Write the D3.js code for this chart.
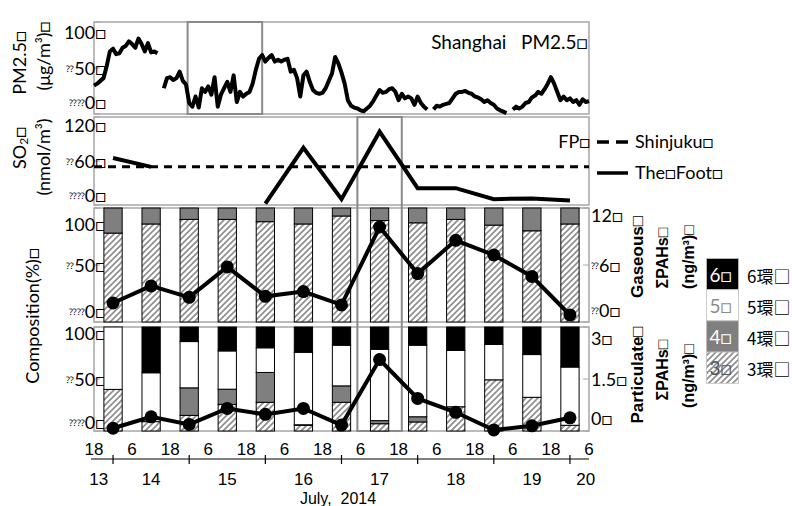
<!DOCTYPE html>
<html><head><meta charset="utf-8">
<script src="https://cdn.jsdelivr.net/npm/d3@7"></script>
<style>body{margin:0;background:#fff}svg{display:block}text{white-space:pre}</style>
</head><body><svg id="c" width="792" height="506"></svg>
<script>
// ---------------- DATA ----------------
const startTime = "2014-07-13T18:00";
const endTime = "2014-07-20T06:00";
// hourly Shanghai PM2.5 (ug/m3) from 13 Jul 18:00; null = missing
const pmValues = [
 31,33,36,39,52,68,71,65,66,72,74,79,76,72,82,76,68,77,67,68,66,
 null,
 28,39,40,37,39,46,36,32,12,8,19,7,28,24,30,21,40,8,21,28,35,24,42,13,24,19,22,24,33,48,60,64,
 57,61,64,57,59,57,59,60,46,48,39,19,42,46,35,26,23,22,23,28,36,44,62,55,45,33,15,9,7,6,4,3,
 6,9,14,20,26,23,24,27,28,24,15,22,17,19,17,10,19,12,8,5,
 null,
 5,9,8,10,11,12,17,22,24,24,25,23,22,19,18,16,13,15,12,10,6,4,2.5,1,
 null,
 5,8,6,8,12,13,18,20,24,22,27,33,40,33,24,15,19,15,17,13,15,10,16,13,14
];
// 12-hour sampling periods (centre times)
const sampleTimes = ["2014-07-14T00:00","2014-07-14T12:00","2014-07-15T00:00","2014-07-15T12:00",
 "2014-07-16T00:00","2014-07-16T12:00","2014-07-17T00:00","2014-07-17T12:00","2014-07-18T00:00",
 "2014-07-18T12:00","2014-07-19T00:00","2014-07-19T12:00","2014-07-20T00:00"];
// SO2 (nmol/m3)
const so2Foot = [64,52,null,null,2,78,8,100,23,23,8,9,6];
const so2Shinjuku = 52;
// Gaseous PAHs composition (%) and total (ng/m3)
const gasRing3 = [78,86,90,90,88,86,93,89,87,90,85,80,86];
const gasRing4 = [22,14,10,10,12,14,7,11,13,10,15,20,14];
const gasTotal = [2.0,3.8,2.6,5.8,2.7,3.2,1.8,10.0,5.1,8.6,7.05,4.8,0.74];
// Particulate PAHs composition (%) and total (ng/m3)
const partRing3 = [40,9,15,25.6,27.6,5.5,27.6,7,8.7,23.3,49.2,32.4,5.5];
const partRing4 = [0,0,26.5,14.6,28.7,0.5,15.8,3,5,0,0,0,0];
const partRing5 = [60,47,44.5,36.8,23.7,69.7,39.1,68.6,68.8,54.1,34,41.1,56];
const partRing6 = [0,44,14,23,20,24.3,17.5,21.4,17.5,22.6,16.8,26.5,38.5];
const partTotal = [0.08,0.41,0.19,0.65,0.48,0.65,0.17,2.06,0.94,0.54,0.03,0.15,0.38];
// axis ticks: [prefix, label]
const pmTicks = [0,50,100], pmTickLabels = [["⁇⁇","0□"],["⁇","50□"],["","100□"]];
const so2Ticks = [0,60,120], so2TickLabels = [["⁇⁇","0□"],["⁇","60□"],["","120□"]];
const pctTicks = [0,50,100], pctTickLabels = [["⁇⁇","0□"],["⁇","50□"],["","100□"]];
const gasTicks = [0,6,12], gasTickLabels = [["⁇","0□"],["⁇","6□"],["","12□"]];
const partTicks = [0,1.5,3], partTickLabels = [["","0□"],["","1.5□"],["","3□"]];
const hourTickTimes = d3.range(14);
const dayTickTimes = ["2014-07-14T00:00","2014-07-15T00:00","2014-07-16T00:00","2014-07-17T00:00","2014-07-18T00:00","2014-07-19T00:00","2014-07-20T00:00"];
const dayLabels = ["13","14","15","16","17","18","19","20"];
const dayLabelTimes = ["2014-07-13T19:30","2014-07-14T12:00","2014-07-15T12:00","2014-07-16T12:00","2014-07-17T12:00","2014-07-18T12:00","2014-07-19T12:00","2014-07-20T05:00"];
const highlight1 = ["2014-07-14T23:30","2014-07-15T23:00"];
const highlight2 = ["2014-07-17T05:00","2014-07-17T19:00"];
const ringKeys = ["ring3","ring4","ring5","ring6"];
const ringLegend = ["6","5","4","3"];

// ---------------- LAYOUT ----------------
const P = d3.timeParse("%Y-%m-%dT%H:%M");
const svg = d3.select("#c");
const L = 94, R = 589;
const x = d3.scaleTime().domain([P(startTime), P(endTime)]).range([L, R]);
const pan = {pm:[22,114], so2:[117,205], gas:[208,322], part:[327,431]};
const yPM = d3.scaleLinear([0,100],[pan.pm[1],pan.pm[0]]);
const ySO2 = d3.scaleLinear([0,120],[pan.so2[1],pan.so2[0]]);
const yGasPct = d3.scaleLinear([0,100],[pan.gas[1],pan.gas[0]]);
const yGas = d3.scaleLinear([0,12],[pan.gas[1],pan.gas[0]]);
const yPartPct = d3.scaleLinear([0,100],[pan.part[1],pan.part[0]]);
const yPart = d3.scaleLinear([0,3],[pan.part[1],pan.part[0]]);

const FONT = "Lato, 'Open Sans', sans-serif";
const ARIAL = "'Liberation Sans', Arial, sans-serif";

const defs = svg.append("defs");
const pat = defs.append("pattern").attr("id","hatch").attr("patternUnits","userSpaceOnUse")
  .attr("width",6).attr("height",6);
pat.append("rect").attr("width",6).attr("height",6).attr("fill","#fff");
pat.append("path").attr("d","M0,6L6,0M-1.5,1.5L1.5,-1.5M4.5,7.5L7.5,4.5")
  .attr("stroke","#8c8c8c").attr("stroke-width",1.6);
const ringFill = {ring3:"url(#hatch)", ring4:"#7f7f7f", ring5:"#ffffff", ring6:"#000000"};

Object.values(pan).forEach(p=>{
  svg.append("rect").attr("x",L).attr("y",p[0]).attr("width",R-L).attr("height",p[1]-p[0])
    .attr("fill","none").attr("stroke","#a6a6a6").attr("stroke-width",1.5);
});

function ticks(scale, vals, labels, p, side, insTop, insBot){
  vals.forEach((v,i)=>{
    const ty = scale(v);
    const ly = Math.max(p[0]+insTop, Math.min(p[1]-insBot, ty));
    const left = side==="left";
    svg.append("line").attr("x1",left?L:R-6).attr("x2",left?L+6:R).attr("y1",ty).attr("y2",ty).attr("stroke","#a6a6a6");
    const t = svg.append("text").attr("x",left?106:591).attr("y",ly).attr("text-anchor",left?"end":"start")
      .attr("dominant-baseline","central").attr("font-family",FONT).attr("font-size",18);
    if (labels[i][0]) t.append("tspan").attr("font-size",9).text(labels[i][0]);
    t.append("tspan").text(labels[i][1]);
  });
}
ticks(yPM, pmTicks, pmTickLabels, pan.pm, "left", 10, 12);
ticks(ySO2, so2Ticks, so2TickLabels, pan.so2, "left", 8, 10);
ticks(yGasPct, pctTicks, pctTickLabels, pan.gas, "left", 16, 11);
ticks(yPartPct, pctTicks, pctTickLabels, pan.part, "left", 6, 9);
ticks(yGas, gasTicks, gasTickLabels, pan.gas, "right", 7, 12);
ticks(yPart, partTicks, partTickLabels, pan.part, "right", 11, 13);

svg.append("rect").attr("x",x(P(highlight1[0]))).attr("y",pan.pm[0])
  .attr("width",x(P(highlight1[1]))-x(P(highlight1[0]))).attr("height",pan.pm[1]-pan.pm[0])
  .attr("fill","none").attr("stroke","#8a8a8a").attr("stroke-width",2);
svg.append("rect").attr("x",x(P(highlight2[0]))).attr("y",pan.so2[0])
  .attr("width",x(P(highlight2[1]))-x(P(highlight2[0]))).attr("height",pan.part[1]-pan.so2[0])
  .attr("fill","none").attr("stroke","#8a8a8a").attr("stroke-width",2);

const t0 = P(startTime);
const pmLine = d3.line().defined(d=>d!=null)
  .x((d,i)=>x(d3.timeHour.offset(t0,i))).y(d=>yPM(d));
svg.append("path").attr("d",pmLine(pmValues)).attr("fill","none").attr("stroke","#000")
  .attr("stroke-width",4).attr("stroke-linejoin","round");
svg.append("text").attr("x",588).attr("y",49).attr("text-anchor","end")
  .attr("font-family",FONT).attr("font-size",19).text("Shanghai   PM2.5□");

svg.append("line").attr("x1",L).attr("x2",R).attr("y1",ySO2(so2Shinjuku)).attr("y2",ySO2(so2Shinjuku))
  .attr("stroke","#000").attr("stroke-width",3).attr("stroke-dasharray","8,6");
const st = sampleTimes.map(P);
const so2Line = d3.line().defined(d=>d!=null).x((d,i)=>x(st[i])).y(d=>ySO2(d));
svg.append("path").attr("d",so2Line(so2Foot)).attr("fill","none").attr("stroke","#000")
  .attr("stroke-width",4);
svg.append("text").attr("x",590).attr("y",148).attr("text-anchor","end").attr("font-family",FONT).attr("font-size",18).text("FP□");
svg.append("line").attr("x1",597).attr("x2",628).attr("y1",142).attr("y2",142).attr("stroke","#000").attr("stroke-width",3.5).attr("stroke-dasharray","12,7");
svg.append("text").attr("x",635).attr("y",148).attr("font-family",FONT).attr("font-size",18).text("Shinjuku□");
svg.append("line").attr("x1",597).attr("x2",628).attr("y1",173).attr("y2",173).attr("stroke","#000").attr("stroke-width",3.5);
svg.append("text").attr("x",635).attr("y",179).attr("font-family",FONT).attr("font-size",18).text("The□Foot□");

const step = x(P(sampleTimes[1])) - x(P(sampleTimes[0]));
const bw = step*0.48;
function bars(table, yPct){
  const series = d3.stack().keys(ringKeys)(table);
  series.forEach(s=>{
    svg.append("g").selectAll("rect").data(s.filter(d=>d[1]-d[0]>0)).join("rect")
      .attr("x",d=>x(d.data.t)-bw/2).attr("width",bw)
      .attr("y",d=>yPct(d[1])).attr("height",d=>yPct(d[0])-yPct(d[1]))
      .attr("fill",ringFill[s.key]).attr("stroke","#000").attr("stroke-width",1);
  });
}
const gasTable = st.map((t,i)=>({t, ring3:gasRing3[i], ring4:gasRing4[i], ring5:0, ring6:0}));
const partTable = st.map((t,i)=>({t, ring3:partRing3[i], ring4:partRing4[i], ring5:partRing5[i], ring6:partRing6[i]}));
bars(gasTable, yGasPct);
bars(partTable, yPartPct);

function dots(vals, yS){
  const ln = d3.line().x((d,i)=>x(st[i])).y(d=>yS(d));
  svg.append("path").attr("d",ln(vals)).attr("fill","none").attr("stroke","#000").attr("stroke-width",4);
  svg.append("g").selectAll("circle").data(vals).join("circle")
    .attr("cx",(d,i)=>x(st[i])).attr("cy",d=>yS(d)).attr("r",6.5).attr("fill","#000");
}
dots(gasTotal, yGas);
dots(partTotal, yPart);

const axY = 459;
svg.append("line").attr("x1",91).attr("x2",R).attr("y1",axY).attr("y2",axY).attr("stroke","#000").attr("stroke-width",1.2);
dayTickTimes.forEach(d=>{
  svg.append("line").attr("x1",x(P(d))).attr("x2",x(P(d))).attr("y1",455).attr("y2",464).attr("stroke","#000").attr("stroke-width",1.2);
});
hourTickTimes.forEach(i=>{
  const t = d3.timeHour.offset(t0, i*12);
  svg.append("text").attr("x",x(t)).attr("y",455).attr("text-anchor","middle")
    .attr("font-family",ARIAL).attr("font-size",17).text(t.getHours());
});
dayLabels.forEach((lab,i)=>{
  svg.append("text").attr("x",x(P(dayLabelTimes[i]))).attr("y",485).attr("text-anchor","middle")
    .attr("font-family",ARIAL).attr("font-size",17).text(lab);
});
svg.append("text").attr("x",338).attr("y",504).attr("text-anchor","middle")
  .attr("font-family",ARIAL).attr("font-size",16).text("July,  2014");

function vtext(cx, cy, font, size, weight){
  return svg.append("text").attr("transform",`translate(${cx},${cy}) rotate(-90)`)
    .attr("text-anchor","middle").attr("dominant-baseline","central")
    .attr("font-family",font).attr("font-size",size).attr("font-weight",weight||"normal");
}
vtext(19,63,FONT,18).text("PM2.5□");
vtext(43,56,FONT,18).text("(μg/m³)□");
const so = vtext(19,148,FONT,18);
so.append("tspan").text("SO");
so.append("tspan").attr("font-size",12).attr("dy",4).text("2");
so.append("tspan").attr("dy",-4).text("□");
vtext(43,157,FONT,18).text("(nmol/m³)");
vtext(32,316,FONT,18).text("Composition(%)□");
vtext(637,257,ARIAL,17,"bold").text("Gaseous□");
vtext(662,258,ARIAL,16,"bold").text("ΣPAHs□");
vtext(688,257,ARIAL,16,"bold").text("(ng/m³)□");
vtext(637,375,ARIAL,17,"bold").text("Particulate□");
vtext(662,370,ARIAL,16,"bold").text("ΣPAHs□");
vtext(688,376,ARIAL,16,"bold").text("(ng/m³)□");

const legFills = ["#000000","#ffffff","#7f7f7f","url(#hatch)"];
const legText = ["#ffffff","#8c8c8c","#ffffff","#555555"];
const lx = 706.5, ly0 = 258.5, lh = 31.2, lw = 32;
ringLegend.forEach((r,i)=>{
  const yy = ly0 + i*lh;
  svg.append("rect").attr("x",lx).attr("y",yy).attr("width",lw).attr("height",lh)
    .attr("fill",legFills[i]).attr("stroke","#bfbfbf").attr("stroke-width",0.8);
  svg.append("text").attr("x",lx+3).attr("y",yy+lh/2).attr("dominant-baseline","central")
    .attr("font-family",FONT).attr("font-size",19).attr("fill",legText[i]).text(r+"□");
  svg.append("text").attr("x",747).attr("y",yy+lh/2+1).attr("dominant-baseline","central")
    .attr("font-family","'Noto Sans CJK JP', sans-serif").attr("font-size",17).text(r+"環□");
});
</script></body></html>
